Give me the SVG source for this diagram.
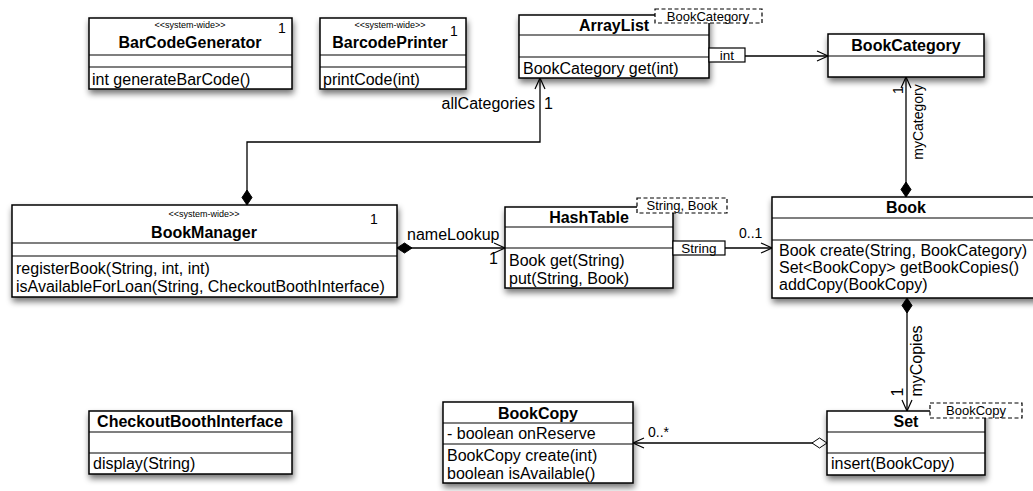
<svg xmlns="http://www.w3.org/2000/svg" width="1033" height="491" viewBox="0 0 1033 491">
  <defs>
    <filter id="shadow" x="-10%" y="-20%" width="130%" height="160%">
      <feGaussianBlur in="SourceAlpha" stdDeviation="3"/>
      <feOffset dx="1" dy="4" result="blur"/>
      <feComponentTransfer><feFuncA type="linear" slope="0.55"/></feComponentTransfer>
      <feMerge><feMergeNode/><feMergeNode in="SourceGraphic"/></feMerge>
    </filter>
    <marker id="arrow" markerUnits="userSpaceOnUse" markerWidth="14" markerHeight="14" refX="11" refY="5" orient="auto" overflow="visible">
      <path d="M0,0 L11,5 L0,10" fill="none" stroke="#000" stroke-width="1.2"/>
    </marker>
    <marker id="diamond" markerUnits="userSpaceOnUse" markerWidth="18" markerHeight="12" refX="0" refY="5" orient="auto" overflow="visible">
      <path d="M0,5 L7.5,0 L15,5 L7.5,10 Z" fill="#000" stroke="#000" stroke-width="1"/>
    </marker>
    <marker id="hollow" markerUnits="userSpaceOnUse" markerWidth="18" markerHeight="12" refX="0" refY="5" orient="auto" overflow="visible">
      <path d="M0,5 L7.5,0 L15,5 L7.5,10 Z" fill="#fff" stroke="#000" stroke-width="1"/>
    </marker>
  </defs>
  <style>
    text { font-family: "Liberation Sans", Arial, sans-serif; fill: #000; }
    .box { fill: #fff; stroke: #000; stroke-width: 1.5; }
    .sep { stroke: #000; stroke-width: 1.2; }
    .title { font-size: 16px; font-weight: bold; text-anchor: middle; }
    .member { font-size: 16px; }
    .stereo { font-size: 9px; text-anchor: middle; }
    .label { font-size: 16px; }
    .small { font-size: 14px; }
    .tmpl { fill: #fff; stroke: #000; stroke-width: 1.2; stroke-dasharray: 4 2.5; }
    .tmpltext { font-size: 13px; text-anchor: middle; }
    .qual { fill: #fff; stroke: #000; stroke-width: 1.2; }
    .qualtext { font-size: 13.5px; text-anchor: middle; }
    .conn { fill: none; stroke: #000; stroke-width: 1.3; }
  </style>

  <rect width="1033" height="491" fill="#fff"/>

  <!-- connectors -->
  <g id="connectors">
    <path class="conn" d="M247,205 V142 H540 V78" marker-start="url(#diamond)" marker-end="url(#arrow)"/>
    <path class="conn" d="M745,56 H828" marker-end="url(#arrow)"/>
    <path class="conn" d="M906,197 V77" marker-start="url(#diamond)" marker-end="url(#arrow)"/>
    <path class="conn" d="M397,248 H505" marker-start="url(#diamond)" marker-end="url(#arrow)"/>
    <path class="conn" d="M725,248 H772" marker-end="url(#arrow)"/>
    <path class="conn" d="M907,298 V411" marker-start="url(#diamond)" marker-end="url(#arrow)"/>
    <path class="conn" d="M827,443 H633" marker-start="url(#hollow)" marker-end="url(#arrow)"/>

    <text class="label" x="535" y="109" text-anchor="end">allCategories</text>
    <text class="label" x="544" y="109">1</text>
    <text class="label" x="407" y="240">nameLookup</text>
    <text class="label" x="489" y="264">1</text>
    <text class="small" x="739" y="238">0..1</text>
    <text class="small" x="648" y="437">0..*</text>
    <text class="small" x="923" y="122" text-anchor="middle" transform="rotate(-90 923 122)">myCategory</text>
    <text class="small" x="903" y="90" text-anchor="middle" transform="rotate(-90 903 90)">1</text>
    <text class="label" x="922" y="361" text-anchor="middle" transform="rotate(-90 922 361)">myCopies</text>
    <text class="label" x="903" y="392" text-anchor="middle" transform="rotate(-90 903 392)">1</text>
  </g>

  <!-- BarCodeGenerator -->
  <g id="BarCodeGenerator">
    <rect class="box" x="89" y="18" width="203" height="71" filter="url(#shadow)"/>
    <line class="sep" x1="89" y1="55" x2="292" y2="55"/>
    <line class="sep" x1="89" y1="67" x2="292" y2="67"/>
    <text class="stereo" x="190" y="28">&lt;&lt;system-wide&gt;&gt;</text>
    <text class="small" x="278" y="33">1</text>
    <text class="title" x="190" y="48">BarCodeGenerator</text>
    <text class="member" x="92" y="85">int generateBarCode()</text>
  </g>

  <!-- BarcodePrinter -->
  <g id="BarcodePrinter">
    <rect class="box" x="320" y="18" width="146" height="71" filter="url(#shadow)"/>
    <line class="sep" x1="320" y1="55" x2="466" y2="55"/>
    <line class="sep" x1="320" y1="67" x2="466" y2="67"/>
    <text class="stereo" x="390" y="28">&lt;&lt;system-wide&gt;&gt;</text>
    <text class="small" x="450" y="36">1</text>
    <text class="title" x="390" y="48">BarcodePrinter</text>
    <text class="member" x="323" y="85">printCode(int)</text>
  </g>

  <!-- ArrayList -->
  <g id="ArrayList">
    <rect class="box" x="519" y="15" width="190" height="63" filter="url(#shadow)"/>
    <line class="sep" x1="519" y1="35" x2="709" y2="35"/>
    <line class="sep" x1="519" y1="57" x2="709" y2="57"/>
    <text class="title" x="614" y="31">ArrayList</text>
    <text class="member" x="523" y="74">BookCategory get(int)</text>
    <rect class="tmpl" x="655" y="9" width="107" height="14"/>
    <text class="tmpltext" x="708" y="20.5">BookCategory</text>
    <rect class="qual" x="709" y="48" width="36" height="14"/>
    <text class="qualtext" x="727" y="59.5">int</text>
  </g>

  <!-- BookCategory -->
  <g id="BookCategory">
    <rect class="box" x="828" y="34" width="156" height="43" filter="url(#shadow)"/>
    <line class="sep" x1="828" y1="56" x2="984" y2="56"/>
    <text class="title" x="906" y="51">BookCategory</text>
  </g>

  <!-- BookManager -->
  <g id="BookManager">
    <rect class="box" x="12" y="205" width="385" height="92" filter="url(#shadow)"/>
    <line class="sep" x1="12" y1="243" x2="397" y2="243"/>
    <line class="sep" x1="12" y1="256" x2="397" y2="256"/>
    <text class="stereo" x="204" y="217">&lt;&lt;system-wide&gt;&gt;</text>
    <text class="small" x="370" y="224">1</text>
    <text class="title" x="204" y="238">BookManager</text>
    <text class="member" x="16" y="274">registerBook(String, int, int)</text>
    <text class="member" x="16" y="292">isAvailableForLoan(String, CheckoutBoothInterface)</text>
  </g>

  <!-- HashTable -->
  <g id="HashTable">
    <rect class="box" x="505" y="207" width="168" height="81" filter="url(#shadow)"/>
    <line class="sep" x1="505" y1="227" x2="673" y2="227"/>
    <line class="sep" x1="505" y1="248" x2="673" y2="248"/>
    <text class="title" x="589" y="223">HashTable</text>
    <text class="member" x="509" y="266">Book get(String)</text>
    <text class="member" x="509" y="284">put(String, Book)</text>
    <rect class="tmpl" x="637" y="198" width="90" height="15"/>
    <text class="tmpltext" x="682" y="210">String, Book</text>
    <rect class="qual" x="673" y="241" width="52" height="14"/>
    <text class="qualtext" x="699" y="252.5">String</text>
  </g>

  <!-- Book -->
  <g id="Book">
    <rect class="box" x="772" y="197" width="268" height="101" filter="url(#shadow)"/>
    <line class="sep" x1="772" y1="218" x2="1040" y2="218"/>
    <line class="sep" x1="772" y1="240" x2="1040" y2="240"/>
    <text class="title" x="906" y="213">Book</text>
    <text class="member" x="779" y="256">Book create(String, BookCategory)</text>
    <text class="member" x="779" y="273">Set&lt;BookCopy&gt; getBookCopies()</text>
    <text class="member" x="779" y="290">addCopy(BookCopy)</text>
  </g>

  <!-- CheckoutBoothInterface -->
  <g id="CheckoutBoothInterface">
    <rect class="box" x="89" y="411" width="203" height="63" filter="url(#shadow)"/>
    <line class="sep" x1="89" y1="432" x2="292" y2="432"/>
    <line class="sep" x1="89" y1="453" x2="292" y2="453"/>
    <text class="title" x="190" y="427">CheckoutBoothInterface</text>
    <text class="member" x="93" y="469">display(String)</text>
  </g>

  <!-- BookCopy -->
  <g id="BookCopy">
    <rect class="box" x="443" y="402" width="190" height="81" filter="url(#shadow)"/>
    <line class="sep" x1="443" y1="423" x2="633" y2="423"/>
    <line class="sep" x1="443" y1="444" x2="633" y2="444"/>
    <text class="title" x="538" y="419">BookCopy</text>
    <text class="member" x="447" y="439">- boolean onReserve</text>
    <text class="member" x="447" y="461">BookCopy create(int)</text>
    <text class="member" x="447" y="479">boolean isAvailable()</text>
  </g>

  <!-- Set -->
  <g id="Set">
    <rect class="box" x="827" y="411" width="158" height="64" filter="url(#shadow)"/>
    <line class="sep" x1="827" y1="432" x2="985" y2="432"/>
    <line class="sep" x1="827" y1="453" x2="985" y2="453"/>
    <text class="title" x="906" y="427">Set</text>
    <text class="member" x="831" y="469">insert(BookCopy)</text>
    <rect class="tmpl" x="930" y="403" width="92" height="15"/>
    <text class="tmpltext" x="976" y="415">BookCopy</text>
  </g>
</svg>
